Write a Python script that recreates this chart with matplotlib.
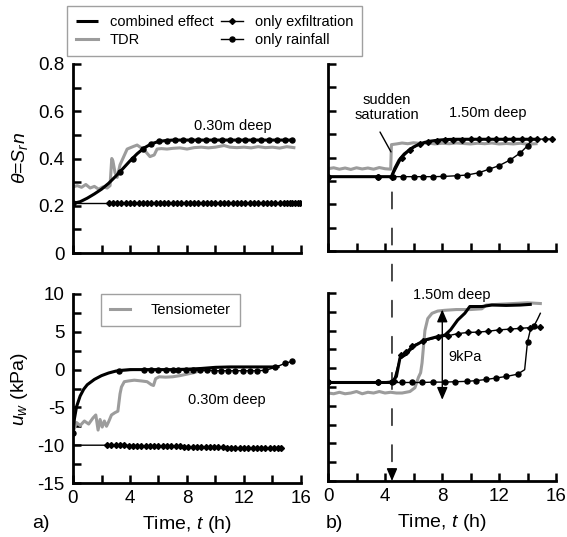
import matplotlib
matplotlib.use('Agg')
import matplotlib.pyplot as plt
from matplotlib.patches import ConnectionPatch

plt.rcParams['font.family'] = ['Liberation Sans', 'DejaVu Sans']
plt.rcParams['mathtext.fontset'] = 'custom'
plt.rcParams['mathtext.rm'] = 'Liberation Sans'
plt.rcParams['mathtext.it'] = 'Liberation Sans:italic'
plt.rcParams['mathtext.bf'] = 'Liberation Sans:bold'

# ---------------- data: a) 0.30 m deep, water content ----------------
tl_comb_t = [0, 0.5, 1, 1.5, 2, 2.5, 3, 3.5, 4, 4.5, 5, 5.5, 6, 6.5, 7, 8, 10, 12, 14, 15.5]
tl_comb_v = [0.210, 0.217, 0.232, 0.250, 0.270, 0.295, 0.325, 0.357, 0.390, 0.420,
             0.445, 0.462, 0.472, 0.476, 0.478, 0.478, 0.478, 0.478, 0.478, 0.478]

tl_tdr_t = [0, 0.3, 0.6, 0.9, 1.2, 1.5, 1.8, 2.1, 2.4, 2.6, 2.72, 2.8, 2.95, 3.1, 3.3,
            3.8, 4.2, 4.5, 5.0, 5.4, 5.7, 5.9, 6.2, 6.6, 7.0, 7.5, 8.0, 8.5, 9.0, 9.5,
            10.0, 10.6, 11.0, 11.5, 12.0, 12.5, 13.0, 13.5, 14.0, 14.5, 15.0, 15.5]
tl_tdr_v = [0.280, 0.285, 0.278, 0.290, 0.275, 0.282, 0.270, 0.280, 0.275, 0.285, 0.400,
            0.390, 0.340, 0.320, 0.373, 0.440, 0.450, 0.457, 0.436, 0.408, 0.415, 0.440,
            0.442, 0.440, 0.443, 0.445, 0.440, 0.446, 0.448, 0.445, 0.448, 0.455, 0.448,
            0.446, 0.448, 0.445, 0.450, 0.446, 0.448, 0.444, 0.450, 0.446]

tl_exf_t = [0, 2.5, 2.8, 3.1, 3.4, 3.7, 4.0, 4.3, 4.6, 4.9, 5.2, 5.5, 5.8, 6.1, 6.4,
            6.7, 7.0, 7.3, 7.6, 7.9, 8.2, 8.5, 8.8, 9.1, 9.4, 9.7, 10.0, 10.3, 10.6,
            10.9, 11.2, 11.5, 11.8, 12.1, 12.4, 12.7, 13.0, 13.3, 13.6, 13.9, 14.2,
            14.5, 14.8, 15.0, 15.2, 15.4, 15.6, 15.8, 15.9]
tl_exf_v = [0.212, 0.212, 0.212, 0.212, 0.212, 0.212, 0.212, 0.212, 0.212, 0.212,
            0.212, 0.212, 0.212, 0.212, 0.212, 0.212, 0.212, 0.212, 0.212, 0.212,
            0.212, 0.212, 0.212, 0.212, 0.212, 0.212, 0.212, 0.212, 0.212, 0.212,
            0.212, 0.212, 0.212, 0.212, 0.212, 0.212, 0.212, 0.212, 0.212, 0.212,
            0.212, 0.212, 0.212, 0.212, 0.212, 0.212, 0.212, 0.212, 0.212]

tl_rain_t = [0, 0.5, 1, 1.5, 2, 2.5, 3.3, 4.2, 4.9, 5.5, 6.05, 6.6, 7.15, 7.7, 8.25,
             8.8, 9.35, 9.9, 10.45, 11.0, 11.55, 12.1, 12.65, 13.2, 13.75, 14.3,
             14.85, 15.4]
tl_rain_v = [0.210, 0.217, 0.232, 0.250, 0.270, 0.295, 0.344, 0.400, 0.442, 0.462,
             0.472, 0.476, 0.477, 0.478, 0.478, 0.478, 0.478, 0.478, 0.478, 0.478,
             0.478, 0.478, 0.478, 0.478, 0.478, 0.478, 0.478, 0.478]
tl_rain_marks = [0] + list(range(6, 28))

# ---------------- data: b) 1.50 m deep, water content ----------------
tr_comb_t = [0, 4.45, 4.7, 5.0, 5.35, 5.7, 6.0, 6.4, 6.8, 7.2, 7.7, 8.3, 9, 10, 11,
             12, 13, 14, 14.6]
tr_comb_v = [0.318, 0.318, 0.355, 0.390, 0.415, 0.432, 0.445, 0.457, 0.465, 0.470,
             0.474, 0.477, 0.478, 0.478, 0.478, 0.478, 0.478, 0.478, 0.478]

tr_tdr_t = [0, 0.4, 0.8, 1.2, 1.6, 2.0, 2.4, 2.8, 3.2, 3.6, 4.0, 4.4, 4.45, 4.8, 5.2,
            5.6, 6.0, 6.5, 7.0, 7.5, 8.0, 8.5, 9.0, 9.5, 10.0, 10.5, 11.0, 11.5,
            12.0, 12.5, 13.0, 13.5, 14.0, 14.6]
tr_tdr_v = [0.352, 0.356, 0.350, 0.355, 0.349, 0.356, 0.351, 0.355, 0.350, 0.357,
            0.352, 0.350, 0.455, 0.458, 0.462, 0.459, 0.463, 0.460, 0.462, 0.458,
            0.461, 0.459, 0.462, 0.460, 0.458, 0.461, 0.459, 0.462, 0.458, 0.460,
            0.458, 0.461, 0.457, 0.459]

tr_exf_t = [0, 3.5, 4.5, 5.17, 5.76, 6.46, 7.05, 7.63, 8.2, 8.8, 9.4, 10.0, 10.6,
            11.2, 11.8, 12.4, 13.0, 13.6, 14.2, 14.7, 15.2, 15.7]
tr_exf_v = [0.318, 0.318, 0.318, 0.397, 0.432, 0.458, 0.468, 0.472, 0.475, 0.476,
            0.477, 0.478, 0.478, 0.478, 0.478, 0.478, 0.478, 0.478, 0.478, 0.478,
            0.479, 0.479]

tr_rain_t = [0, 3.5, 4.58, 5.29, 6.0, 6.7, 7.4, 8.1, 9.05, 9.75, 10.6, 11.3, 12.0,
             12.8, 13.5, 14.0, 14.25]
tr_rain_v = [0.318, 0.318, 0.318, 0.318, 0.318, 0.318, 0.318, 0.319, 0.322, 0.325,
             0.335, 0.350, 0.365, 0.390, 0.420, 0.450, 0.472]
tr_rain_marks = list(range(0, 16))

# ---------------- data: a) 0.30 m deep, pore-water pressure ----------------
bl_comb_t = [0, 0.1, 0.25, 0.5, 0.75, 1.0, 1.5, 2.0, 2.5, 3.0, 3.5, 4.0, 5, 6, 7, 8,
             9, 10, 11, 12, 13, 14, 14.5]
bl_comb_v = [-8.4, -6.5, -4.9, -3.5, -2.6, -2.0, -1.3, -0.8, -0.45, -0.2, -0.08, 0.0,
             0.0, 0.0, 0.0, 0.05, 0.15, 0.3, 0.35, 0.35, 0.35, 0.35, 0.4]

bl_ten_t = [0, 0.25, 0.5, 0.8, 1.1, 1.4, 1.6, 1.76, 1.9, 2.05, 2.2, 2.35, 2.5, 2.7,
            2.94, 3.15, 3.3, 3.4, 3.6, 3.9, 4.3, 4.8, 5.2, 5.5, 5.65, 5.8, 6.05, 6.5,
            7.0, 7.5, 8.0, 8.5, 8.9, 9.5, 10.0]
bl_ten_v = [-8.3, -7.0, -7.4, -6.8, -7.2, -6.4, -6.0, -8.0, -6.6, -7.6, -6.8, -7.5,
            -6.9, -6.0, -5.7, -5.5, -3.2, -2.3, -1.6, -1.5, -1.4, -1.5, -1.6, -2.0,
            -2.1, -1.2, -0.95, -1.0, -0.95, -0.8, -0.6, -0.4, -0.15, 0.05, 0.25]

bl_exf_t = [0, 2.4, 2.7, 3.0, 3.3, 3.6, 3.9, 4.2, 4.5, 4.8, 5.1, 5.4, 5.7, 6.0, 6.3,
            6.6, 6.9, 7.2, 7.5, 7.8, 8.1, 8.4, 8.7, 9.0, 9.3, 9.6, 9.9, 10.2, 10.5,
            10.8, 11.1, 11.4, 11.7, 12.0, 12.3, 12.6, 12.9, 13.2, 13.5, 13.8, 14.1,
            14.4, 14.6]
bl_exf_v = [-10.00, -10.00, -10.00, -10.02, -10.02, -10.03, -10.04, -10.05, -10.05,
            -10.06, -10.07, -10.08, -10.09, -10.10, -10.11, -10.12, -10.14, -10.15,
            -10.17, -10.18, -10.20, -10.21, -10.23, -10.24, -10.25, -10.27, -10.28,
            -10.29, -10.30, -10.31, -10.32, -10.33, -10.34, -10.35, -10.36, -10.36,
            -10.37, -10.38, -10.38, -10.39, -10.40, -10.40, -10.40]

bl_rain_t = [0, 0.1, 0.25, 0.5, 0.75, 1.0, 1.5, 2.0, 2.5, 3.2, 5.0, 5.5, 6.0, 6.5,
             7.0, 7.4, 7.9, 8.4, 8.9, 9.4, 9.9, 10.4, 10.9, 11.4, 11.9, 12.4, 12.9,
             13.5, 14.2, 14.9, 15.4]
bl_rain_v = [-8.4, -6.5, -4.9, -3.5, -2.6, -2.0, -1.3, -0.8, -0.45, -0.15, -0.05,
             0.0, 0.0, 0.0, -0.05, 0.0, -0.05, -0.1, -0.1, -0.1, -0.15, -0.15, -0.15,
             -0.15, -0.15, -0.15, -0.15, -0.1, 0.3, 0.85, 1.1]
bl_rain_marks = [0] + list(range(9, 31))

# ---------------- data: b) 1.50 m deep, pore-water pressure ----------------
br_comb_t = [0, 4.47, 4.8, 5.05, 5.4, 6.0, 6.8, 7.7, 8.2, 8.6, 9.1, 9.6, 9.95, 10.8,
             11.5, 12.5, 13.5, 14.3]
br_comb_v = [-1.9, -1.9, -1.1, 1.35, 1.75, 2.9, 3.75, 4.2, 4.4, 5.1, 6.4, 7.3, 8.2,
             8.2, 8.4, 8.35, 8.4, 8.5]

br_ten_t = [0, 0.4, 0.8, 1.2, 1.6, 2.0, 2.4, 2.8, 3.2, 3.6, 4.0, 4.4, 4.8, 5.2, 5.75,
            6.1, 6.35, 6.5, 6.6, 6.8, 7.0, 7.3, 7.7, 8.2, 9.0, 10.0, 10.8, 11.1,
            12.0, 13.0, 14.0, 14.9]
br_ten_v = [-3.3, -3.4, -3.2, -3.4, -3.3, -3.1, -3.4, -3.2, -3.3, -3.1, -3.3, -3.2,
            -3.3, -3.3, -3.1, -2.6, -1.2, -0.6, 0.7, 5.0, 6.6, 7.3, 7.6, 7.7, 7.8,
            7.8, 7.9, 8.4, 8.5, 8.6, 8.7, 8.6]

br_exf_t = [0, 3.5, 4.6, 5.1, 5.5, 5.9, 6.7, 7.7, 8.4, 9.1, 9.8, 10.5, 11.2, 12.0,
            12.8, 13.5, 14.2, 14.9]
br_exf_v = [-1.9, -1.9, -1.7, 1.7, 2.2, 3.0, 3.6, 4.1, 4.3, 4.6, 4.75, 4.8, 4.9,
            5.1, 5.2, 5.3, 5.4, 5.45]

br_rain_t = [0, 3.5, 4.5, 5.2, 5.9, 6.6, 7.4, 8.2, 8.9, 9.75, 10.4, 11.1, 11.8, 12.5,
             13.3, 13.8, 14.0, 14.2, 14.45, 14.7, 14.9]
br_rain_v = [-1.9, -1.9, -1.9, -1.9, -1.9, -1.9, -1.85, -1.85, -1.8, -1.75, -1.65,
             -1.5, -1.3, -1.1, -0.8, -0.2, 3.5, 5.1, 5.6, 6.5, 7.3]
br_rain_marks = list(range(0, 15)) + [16, 18]

# ---------------- labels ----------------
x_ticks = [0, 2, 4, 6, 8, 10, 12, 14, 16]
x_ticklabels = ['0', '', '4', '', '8', '', '12', '', '16']
th_ticks = [0, 0.1, 0.2, 0.3, 0.4, 0.5, 0.6, 0.7, 0.8]
th_ticklabels = ['0', '', '0.2', '', '0.4', '', '0.6', '', '0.8']
u_ticks = [-15, -12.5, -10, -7.5, -5, -2.5, 0, 2.5, 5, 7.5, 10]
u_ticklabels = ['-15', '', '-10', '', '-5', '', '0', '', '5', '', '10']

GRAY = '#9c9c9c'
W, H = 567, 537
fig = plt.figure(figsize=(W / 100, H / 100), dpi=100)


def add_ax(x0, x1, ytop, ybot):
    return fig.add_axes([x0 / W, 1 - ybot / H, (x1 - x0) / W, (ybot - ytop) / H])


ax_tl = add_ax(73, 301, 64, 253)
ax_tr = add_ax(328, 556, 64, 251)
ax_bl = add_ax(73, 301, 294, 483)
ax_br = add_ax(328, 556, 293, 481)

for ax in (ax_tl, ax_tr, ax_bl, ax_br):
    for s in ('top', 'right'):
        ax.spines[s].set_visible(False)
    for s in ('left', 'bottom'):
        ax.spines[s].set_linewidth(2.0)
    ax.tick_params(direction='in', length=6, width=1.8, labelsize=13.5, pad=6)
    ax.set_xlim(0, 16)
    ax.set_xticks(x_ticks)

for ax in (ax_tl, ax_tr):
    ax.set_ylim(0, 0.8)
    ax.set_yticks(th_ticks)
    ax.set_xticklabels([])
for ax in (ax_bl, ax_br):
    ax.set_ylim(-15, 10)
    ax.set_yticks(u_ticks)
    ax.set_xticklabels(x_ticklabels)
    ax.tick_params(axis='x', pad=5)
ax_tl.set_yticklabels(th_ticklabels)
ax_bl.set_yticklabels(u_ticklabels)
ax_tr.set_yticklabels([])
ax_br.set_yticklabels([])

comb_kw = dict(color='black', lw=2.2, solid_capstyle='butt')
tdr_kw = dict(color=GRAY, lw=2.2)
exf_kw = dict(color='black', lw=1.0, marker='D', ms=3.0)
rain_kw = dict(color='black', lw=1.0, marker='o', ms=3.6)

# a) water content
h_tdr, = ax_tl.plot(tl_tdr_t, tl_tdr_v, label='TDR', **tdr_kw)
h_comb, = ax_tl.plot(tl_comb_t, tl_comb_v, label='combined effect', **comb_kw)
h_exf, = ax_tl.plot(tl_exf_t, tl_exf_v, label='only exfiltration',
                    markevery=list(range(1, len(tl_exf_t))), **exf_kw)
h_rain, = ax_tl.plot(tl_rain_t, tl_rain_v, label='only rainfall',
                     markevery=tl_rain_marks, **rain_kw)

# b) water content
ax_tr.plot(tr_tdr_t, tr_tdr_v, **tdr_kw)
ax_tr.plot(tr_comb_t, tr_comb_v, **comb_kw)
ax_tr.plot(tr_exf_t, tr_exf_v, **exf_kw)
ax_tr.plot(tr_rain_t, tr_rain_v, markevery=tr_rain_marks, **rain_kw)

# a) pore-water pressure
h_ten, = ax_bl.plot(bl_ten_t, bl_ten_v, label='Tensiometer', **tdr_kw)
ax_bl.plot(bl_comb_t, bl_comb_v, **comb_kw)
ax_bl.plot(bl_exf_t, bl_exf_v, markevery=list(range(1, len(bl_exf_t))), **exf_kw)
ax_bl.plot(bl_rain_t, bl_rain_v, markevery=bl_rain_marks, **rain_kw)

# b) pore-water pressure
ax_br.plot(br_ten_t, br_ten_v, **tdr_kw)
ax_br.plot(br_comb_t, br_comb_v, **comb_kw)
ax_br.plot(br_exf_t, br_exf_v, **exf_kw)
ax_br.plot(br_rain_t, br_rain_v, markevery=br_rain_marks, **rain_kw)

# axis labels
ax_tl.set_ylabel(r'$\theta$=$S_r n$', fontsize=14)
ax_bl.set_ylabel(r'$u_w$ (kPa)', fontsize=14)
ax_tl.yaxis.set_label_coords(-0.19, 0.5)
ax_bl.yaxis.set_label_coords(-0.19, 0.5)
for ax in (ax_bl, ax_br):
    ax.set_xlabel(r'Time, $t$ (h)', fontsize=14)
    ax.xaxis.set_label_coords(0.5, -0.165)
fig.text(41 / W, 1 - 524 / H, 'a)', fontsize=14, ha='center', va='center')
fig.text(334 / W, 1 - 524 / H, 'b)', fontsize=14, ha='center', va='center')

# annotations
ax_tl.text(11.2, 0.538, '0.30m deep', fontsize=10.5, ha='center', va='center')
ax_tr.text(11.2, 0.59, '1.50m deep', fontsize=10.5, ha='center', va='center')
ax_tr.text(4.1, 0.614, 'sudden\nsaturation', fontsize=10.5, ha='center', va='center',
           linespacing=1.05)
ax_tr.annotate('', xy=(4.42, 0.424), xytext=(3.65, 0.509),
               arrowprops=dict(arrowstyle='-', lw=1.0, color='black', shrinkA=0, shrinkB=0))
ax_bl.text(10.8, -4.0, '0.30m deep', fontsize=10.5, ha='center', va='center')
ax_br.text(8.7, 9.7, '1.50m deep', fontsize=10.5, ha='center', va='center')
ax_br.text(8.45, 1.5, '9kPa', fontsize=10.5, ha='left', va='center')
ax_br.annotate('', xy=(8.02, 7.8), xytext=(8.02, -4.2),
               arrowprops=dict(arrowstyle='<|-|>,head_length=0.75,head_width=0.32',
                               mutation_scale=10, lw=1.0, color='black',
                               shrinkA=0, shrinkB=0))

# dashed line from sudden saturation down to the time axis
con = ConnectionPatch(xyA=(4.49, 0.252), coordsA=ax_tr.transData,
                      xyB=(4.49, -13.6), coordsB=ax_br.transData,
                      linestyle=(0, (12, 14)), lw=1.0, color='black')
fig.add_artist(con)
ax_br.annotate('', xy=(4.49, -15), xytext=(4.49, -13.4),
               arrowprops=dict(arrowstyle='-|>,head_length=0.75,head_width=0.32',
                               mutation_scale=10, lw=1.0, color='black',
                               shrinkA=0, shrinkB=0), annotation_clip=False)

# legends
leg = fig.legend(handles=[h_comb, h_tdr, h_exf, h_rain], ncol=2, loc='upper left',
                 bbox_to_anchor=(67 / W, 1 - 6 / H), borderaxespad=0, fontsize=10.5,
                 frameon=True, fancybox=False, handlelength=1.5, handletextpad=0.85,
                 columnspacing=0.5, labelspacing=0.3, borderpad=0.6)
leg.get_frame().set_edgecolor('#888888')
leg.get_frame().set_linewidth(1.0)

leg2 = ax_bl.legend(handles=[h_ten], loc='upper left', bbox_to_anchor=(0.123, 1.0),
                    borderaxespad=0, fontsize=10.5, frameon=True, fancybox=False,
                    handlelength=1.37, handletextpad=1.45, borderpad=0.6)
leg2.get_frame().set_edgecolor('#888888')
leg2.get_frame().set_linewidth(1.0)

fig.savefig('out.png', dpi=100)
